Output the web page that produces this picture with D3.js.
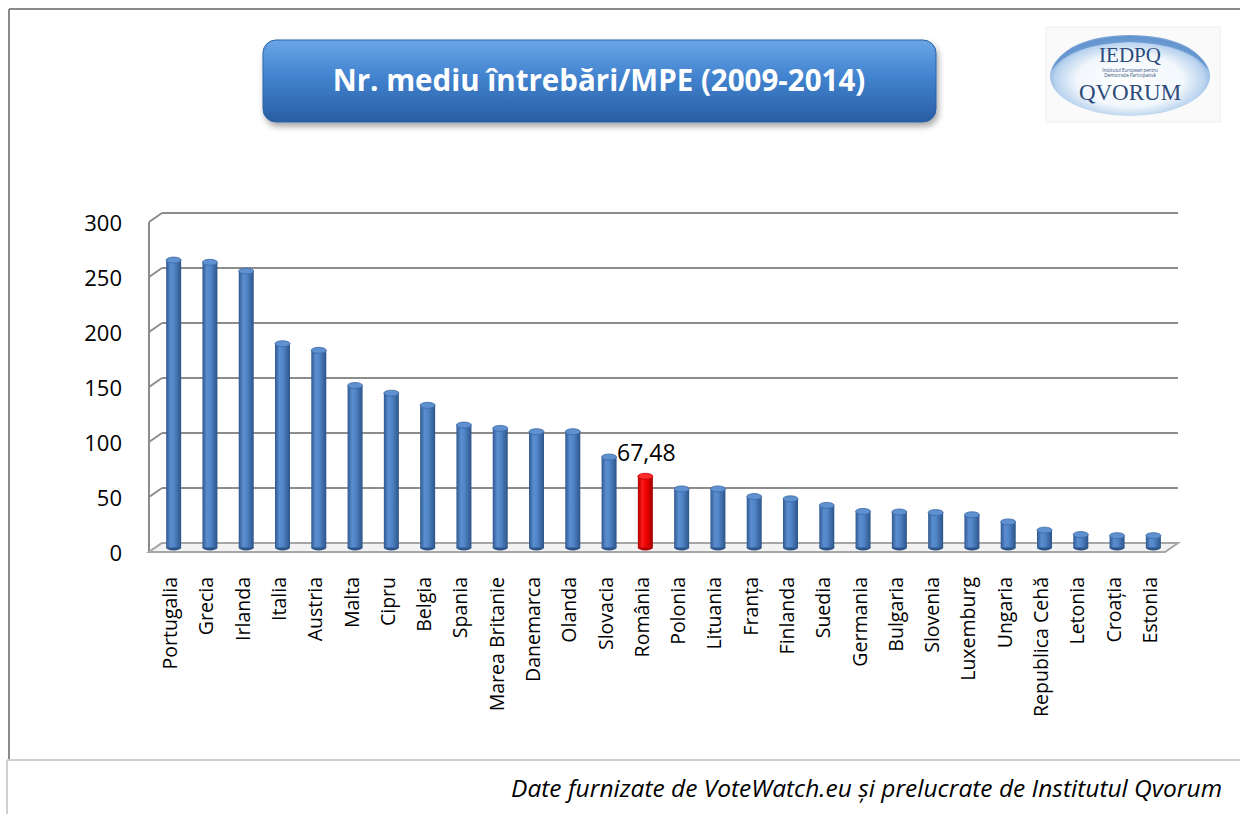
<!DOCTYPE html>
<html>
<head>
<meta charset="utf-8">
<title>Nr. mediu întrebări/MPE</title>
<script src="https://d3js.org/d3.v7.min.js"></script>
<style>
  body { margin: 0; background: #fff; }
  svg text { font-family: "Open Sans", "DejaVu Sans", sans-serif; }
</style>
</head>
<body>
<div id="chart"></div>
<script>
// data
const countries = ["Portugalia", "Grecia", "Irlanda", "Italia", "Austria", "Malta", "Cipru", "Belgia",
  "Spania", "Marea Britanie", "Danemarca", "Olanda", "Slovacia", "România", "Polonia", "Lituania",
  "Franța", "Finlanda", "Suedia", "Germania", "Bulgaria", "Slovenia", "Luxemburg", "Ungaria",
  "Republica Cehă", "Letonia", "Croația", "Estonia"];
const values = [264, 262, 254, 188, 182, 150, 143, 132, 114, 111, 108, 108, 85, 67.48, 56, 56,
  49, 47, 41, 35.5, 35, 34.5, 32.5, 26, 18.5, 14.5, 13.5, 13.5];
const yTicks = [0, 50, 100, 150, 200, 250, 300];
const highlight = "România";
const highlightLabel = "67,48";
const title = "Nr. mediu întrebări/MPE (2009-2014)";
const source = "Date furnizate de VoteWatch.eu și prelucrate de Institutul Qvorum";

const W = 1240, H = 814;
const svg = d3.select("#chart").append("svg").attr("width", W).attr("height", H);
const defs = svg.append("defs");

// gradients
function hGrad(id, stops) {
  const g = defs.append("linearGradient").attr("id", id).attr("x1", 0).attr("x2", 1).attr("y1", 0).attr("y2", 0);
  stops.forEach(s => g.append("stop").attr("offset", s[0]).attr("stop-color", s[1]));
}
hGrad("blueBar", [["0%", "#30588f"], ["30%", "#5a8ed0"], ["55%", "#4f84c6"], ["100%", "#2d5488"]]);
hGrad("redBar", [["0%", "#b00000"], ["30%", "#ff1a1a"], ["55%", "#f00000"], ["100%", "#a00000"]]);

const tg = defs.append("linearGradient").attr("id", "titleGrad").attr("x1", 0).attr("x2", 0).attr("y1", 0).attr("y2", 1);
tg.append("stop").attr("offset", "0%").attr("stop-color", "#6aa5e6");
tg.append("stop").attr("offset", "45%").attr("stop-color", "#4283cf");
tg.append("stop").attr("offset", "100%").attr("stop-color", "#285ea3");

const lg = defs.append("radialGradient").attr("id", "logoGrad").attr("cx", "50%").attr("cy", "55%").attr("r", "55%");
lg.append("stop").attr("offset", "0%").attr("stop-color", "#ffffff");
lg.append("stop").attr("offset", "60%").attr("stop-color", "#f2f7fc");
lg.append("stop").attr("offset", "85%").attr("stop-color", "#b9d3ee");
lg.append("stop").attr("offset", "100%").attr("stop-color", "#6f9fd6");

const shadow = defs.append("filter").attr("id", "shadow").attr("x", "-10%").attr("y", "-20%").attr("width", "120%").attr("height", "150%");
shadow.append("feDropShadow").attr("dx", 2).attr("dy", 4).attr("stdDeviation", 3).attr("flood-color", "#000").attr("flood-opacity", 0.35);

// outer frame
svg.append("line").attr("x1", 9).attr("x2", W).attr("y1", 9).attr("y2", 9).attr("stroke", "#8a8a8a").attr("stroke-width", 2);
svg.append("line").attr("x1", 9).attr("x2", 9).attr("y1", 9).attr("y2", 759).attr("stroke", "#8a8a8a").attr("stroke-width", 2);
svg.append("line").attr("x1", 7).attr("x2", W).attr("y1", 760).attr("y2", 760).attr("stroke", "#cfcfcf").attr("stroke-width", 2);
svg.append("line").attr("x1", 7).attr("x2", 7).attr("y1", 760).attr("y2", H).attr("stroke", "#cfcfcf").attr("stroke-width", 2);

// title box
svg.append("rect").attr("x", 263).attr("y", 40).attr("width", 673).attr("height", 82).attr("rx", 13)
  .attr("fill", "url(#titleGrad)").attr("stroke", "#2f62a3").attr("stroke-width", 1).attr("filter", "url(#shadow)");
svg.append("text").attr("x", 599).attr("y", 83).attr("text-anchor", "middle").attr("dominant-baseline", "middle")
  .attr("fill", "#fff").attr("font-weight", "bold").attr("font-size", 29.5).text(title);

// logo
const logo = svg.append("g");
logo.append("rect").attr("x", 1046).attr("y", 27).attr("width", 174).attr("height", 95).attr("fill", "#fafafa").attr("stroke", "#eeeeee");
logo.append("ellipse").attr("cx", 1130).attr("cy", 76).attr("rx", 80).attr("ry", 40).attr("fill", "url(#logoGrad)");
logo.append("path").attr("d", "M1052,70 Q1065,36 1130,35 Q1195,36 1208,70 Q1190,44 1130,42 Q1070,44 1052,70 Z").attr("fill", "#5d8fcc").attr("opacity", 0.8);
logo.append("text").attr("x", 1130).attr("y", 62).attr("text-anchor", "middle")
  .attr("font-size", 21).attr("fill", "#2d4b7a").style("font-family", "'Liberation Serif', serif").text("IEDPQ");
logo.append("text").attr("x", 1130).attr("y", 72).attr("text-anchor", "middle").attr("font-size", 4.5).attr("fill", "#2d4b7a").text("Institutul European pentru");
logo.append("text").attr("x", 1130).attr("y", 77).attr("text-anchor", "middle").attr("font-size", 4.5).attr("fill", "#2d4b7a").text("Democrație Participativă");
logo.append("text").attr("x", 1130).attr("y", 100).attr("text-anchor", "middle")
  .attr("font-size", 23).attr("fill", "#2d4b7a").style("font-family", "'Liberation Serif', serif").text("QVORUM");

// chart geometry (front plane) and 3D depth offset
const dx = 13, dy = -9;
const x = d3.scaleBand().domain(countries).range([149, 1165]).padding(0);
const y = d3.scaleLinear().domain([0, 300]).range([552, 222]);
const xEnd = x.range()[1];

const grid = svg.append("g");
// back-wall gridlines and side-wall diagonals
yTicks.forEach(t => {
  if (t > 0) {
    grid.append("line").attr("x1", 149 + dx).attr("x2", xEnd + dx).attr("y1", y(t) + dy).attr("y2", y(t) + dy)
      .attr("stroke", "#8c8c8c").attr("stroke-width", 2);
  }
  grid.append("line").attr("x1", 149).attr("x2", 149 + dx).attr("y1", y(t)).attr("y2", y(t) + dy)
    .attr("stroke", "#8c8c8c").attr("stroke-width", 2);
});
grid.append("line").attr("x1", 149).attr("x2", 149).attr("y1", y(300)).attr("y2", y(0))
  .attr("stroke", "#8c8c8c").attr("stroke-width", 2);
// floor
grid.append("path")
  .attr("d", `M149,${y(0)} L${xEnd},${y(0)} L${xEnd + dx},${y(0) + dy} L${149 + dx},${y(0) + dy} Z`)
  .attr("fill", "#f2f2f2").attr("stroke", "#a6a6a6").attr("stroke-width", 2);

// y axis labels
svg.append("g").selectAll("text").data(yTicks).join("text")
  .attr("x", 122).attr("y", d => y(d)).attr("text-anchor", "end").attr("dominant-baseline", "central")
  .attr("font-size", 22).attr("fill", "#000").text(d => d);

// cylinders
const bw = 15, ry = 3;
const bars = svg.append("g").selectAll("g").data(countries).join("g");
const cx = d => x(d) + x.bandwidth() / 2 + dx / 2;
const base = y(0) + dy / 2;
const topY = (d, i) => y(values[i]) + dy / 2 + ry;
bars.append("ellipse").attr("cx", cx).attr("cy", base).attr("rx", bw / 2).attr("ry", ry)
  .attr("fill", d => d === highlight ? "#b00000" : "#2d5488");
bars.append("rect").attr("x", d => cx(d) - bw / 2).attr("y", topY).attr("width", bw)
  .attr("height", (d, i) => base - topY(d, i))
  .attr("fill", d => d === highlight ? "url(#redBar)" : "url(#blueBar)");
bars.append("ellipse").attr("cx", cx).attr("cy", topY).attr("rx", bw / 2).attr("ry", ry)
  .attr("fill", d => d === highlight ? "#ff2b2b" : "#5f90d0")
  .attr("stroke", d => d === highlight ? "#c00000" : "#3a68a5").attr("stroke-width", 0.8);

// value label for highlighted bar
const hi = countries.indexOf(highlight);
svg.append("text").attr("x", cx(highlight) + 1).attr("y", y(values[hi]) + dy / 2 - 21)
  .attr("text-anchor", "middle").attr("dominant-baseline", "central").attr("font-size", 23).text(highlightLabel);

// category labels
svg.append("g").selectAll("text").data(countries).join("text")
  .attr("transform", d => `translate(${cx(d) - 4},577) rotate(-90)`)
  .attr("text-anchor", "end").attr("dominant-baseline", "central")
  .attr("font-size", 19.5).attr("fill", "#000").text(d => d);

// source note
svg.append("text").attr("x", 1222).attr("y", 787).attr("text-anchor", "end").attr("dominant-baseline", "central")
  .attr("font-style", "italic").attr("font-size", 24.5).attr("fill", "#000").text(source);
</script>
</body>
</html>
